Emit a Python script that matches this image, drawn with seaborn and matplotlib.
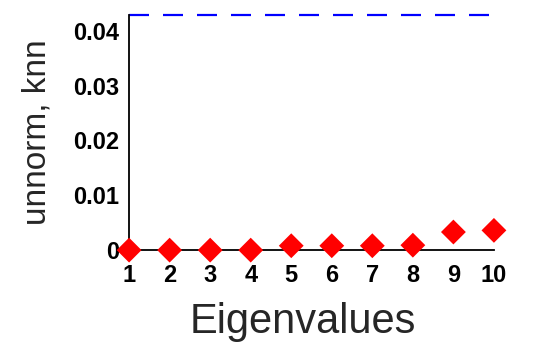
import numpy as np
import pandas as pd
import matplotlib
matplotlib.use("Agg")
import matplotlib.pyplot as plt
import seaborn as sns

# === Data ===
eig_idx = [1, 2, 3, 4, 5, 6, 7, 8, 9, 10]
eig_vals = [0.0, 0.0, 0.0, 0.0, 0.0008, 0.0008, 0.0008, 0.0009, 0.0033, 0.0036]
gap_x = [1, 10]
gap_y = [0.0429, 0.0429]
y_ticks = [0, 0.01, 0.02, 0.03, 0.04]
y_tick_labels = ["0", "0.01", "0.02", "0.03", "0.04"]

df = pd.DataFrame({"idx": eig_idx, "val": eig_vals})
ref = pd.DataFrame({"idx": gap_x, "val": gap_y})

sns.set_style("white")
plt.rcParams["font.family"] = ["Liberation Sans", "DejaVu Sans"]

fig = plt.figure(figsize=(5.47, 3.45), dpi=100)
ax = fig.add_axes([0.236, 0.275, 0.667, 0.682])

sns.lineplot(data=ref, x="idx", y="val", ax=ax, color="#0000ff",
             linestyle=(0, (9, 6.3)), linewidth=1.6, clip_on=False)
sns.scatterplot(data=df, x="idx", y="val", ax=ax, marker="D", s=160,
                color="#ff0000", edgecolor="none", clip_on=False, zorder=5)

ax.set_xlim(1, 10)
ax.set_ylim(0, 0.0429)
ax.set_xticks(eig_idx)
ax.set_yticks(y_ticks)
ax.set_yticklabels(y_tick_labels)
ax.tick_params(direction="in", length=4, width=1, colors="black",
               labelsize=17)
ax.tick_params(axis="x", pad=10)
ax.tick_params(axis="y", pad=7)
for lab in ax.get_xticklabels() + ax.get_yticklabels():
    lab.set_fontweight("bold")

ax.set_xlabel("Eigenvalues", fontsize=30, labelpad=11, x=0.477)
ax.set_ylabel("unnorm, knn", fontsize=24, labelpad=15)

for side in ["top", "right"]:
    ax.spines[side].set_visible(False)
for side in ["left", "bottom"]:
    ax.spines[side].set_color("black")
    ax.spines[side].set_linewidth(1.3)

fig.savefig("out.png", dpi=100)
